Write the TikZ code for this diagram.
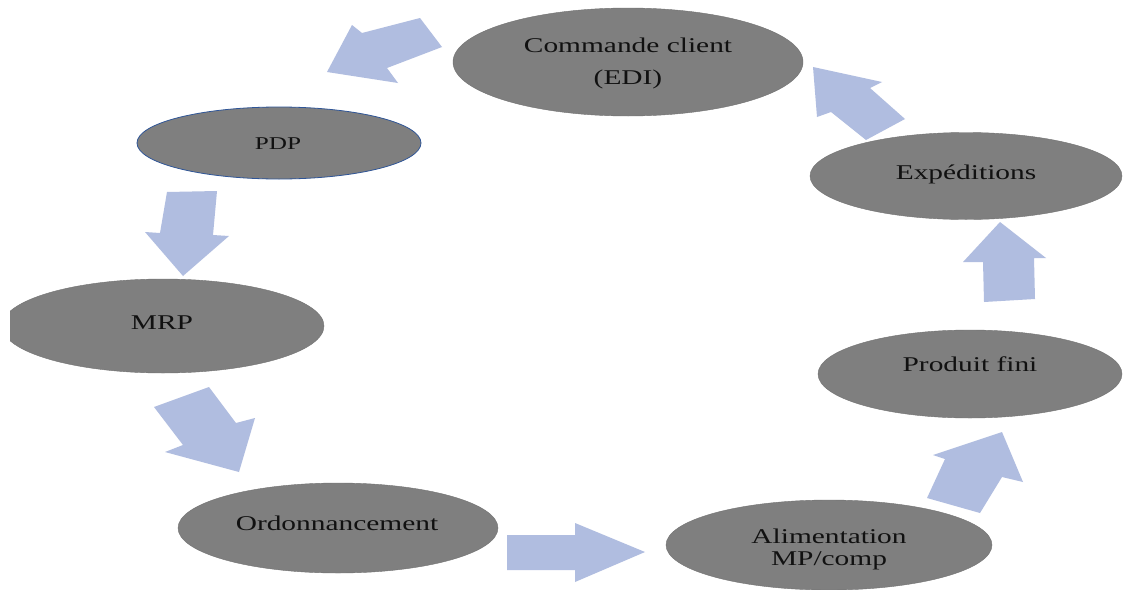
\documentclass[tikz,border=0pt]{standalone}
\usepackage{fontspec}
\setmainfont[FakeStretch=1.4]{Liberation Serif}
\usetikzlibrary{shapes.geometric}
\definecolor{ellgray}{HTML}{7F7F7F}
\definecolor{arrowblue}{HTML}{B0BDE0}
\definecolor{pdpblue}{HTML}{2F5597}
\definecolor{txtcol}{HTML}{111111}
\tikzset{
  ell/.style={ellipse, fill=ellgray, draw=ellgray!90!black, line width=0.4pt, inner sep=0pt},
  txt/.style={text=txtcol, font=\fontsize{21}{22}\selectfont, align=center, inner sep=0pt},
  blockarrow/.style={fill=arrowblue, draw=none},
}
\begin{document}
\begin{tikzpicture}[x=1pt,y=-1pt]
\useasboundingbox (0,0) rectangle (1123,589);
\fill[white] (0,0) rectangle (1123,589);
% ellipses
\node[ell, minimum width=350pt, minimum height=108pt] (cmd) at (628,62) {};
\node[ell, draw=pdpblue, line width=0.8pt, minimum width=284pt, minimum height=72pt] (pdp) at (279,143) {};
\begin{scope}
\clip (10,0) rectangle (1123,589);
\node[ell, minimum width=322pt, minimum height=94pt] (mrp) at (163,326) {};
\end{scope}
\node[ell, minimum width=320pt, minimum height=90pt] (ord) at (338,528) {};
\node[ell, minimum width=326pt, minimum height=90pt] (ali) at (829,545) {};
\node[ell, minimum width=304pt, minimum height=88pt] (pf) at (970,374) {};
\node[ell, minimum width=312pt, minimum height=87pt] (exp) at (966,176) {};
% texts
\node[txt, font=\fontsize{21}{32}\selectfont] (tcmd) at (628,63) {Commande client\\(EDI)};
\node[txt, font=\fontsize{18}{20}\selectfont] (tpdp) at (278,144) {PDP};
\node[txt] (tmrp) at (162,323) {MRP};
\node[txt] (tord) at (337,523) {Ordonnancement};
\node[txt] (tali) at (829,549) {Alimentation\\MP/comp};
\node[txt] (tpf) at (970,364) {Produit fini};
\node[txt] (texp) at (966,174) {Expéditions};
% block arrows
\fill[blockarrow] (420,18) -- (442,47) -- (387,68) -- (398,83) -- (327,72) -- (352,25) -- (362,33) -- cycle;
\fill[blockarrow] (167,192) -- (217,191) -- (213,235) -- (229,236) -- (183,276) -- (145,232) -- (160,233) -- cycle;
\fill[blockarrow] (154,407) -- (209,387) -- (236,423) -- (255,418) -- (239,472) -- (165,452) -- (183,445) -- cycle;
\fill[blockarrow] (507,535) -- (575,535) -- (575,523) -- (645,552) -- (575,582) -- (575,570) -- (507,570) -- cycle;
\fill[blockarrow] (927,498) -- (945,459) -- (933,455) -- (1002,432) -- (1023,482) -- (1002,477) -- (980,513) -- cycle;
\fill[blockarrow] (984,302) -- (1035,299) -- (1034,258) -- (1046,258) -- (1000,222) -- (963,262) -- (983,262) -- cycle;
\fill[blockarrow] (866,140) -- (905,119) -- (870,88) -- (882,82) -- (813,67) -- (817,117) -- (831,112) -- cycle;
\end{tikzpicture}
\end{document}
